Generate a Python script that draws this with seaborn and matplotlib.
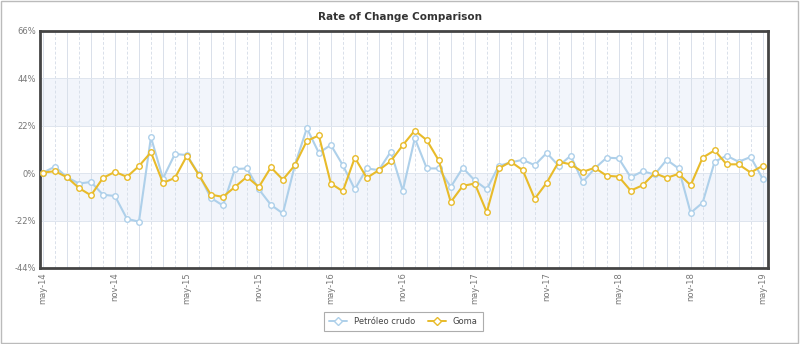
import numpy as np
import pandas as pd
import matplotlib
matplotlib.use("Agg")
import matplotlib.pyplot as plt
import seaborn as sns
from matplotlib.patches import Rectangle
from matplotlib.lines import Line2D

months_es = ["ene", "feb", "mar", "abr", "may", "jun", "jul", "ago", "sep", "oct", "nov", "dic"]
dates = pd.date_range("2014-05-01", "2019-05-01", freq="MS")
month_labels = [f"{months_es[d.month - 1]}-{str(d.year)[2:]}" for d in dates]

petroleo = [0.3, 3.0, -1.9, -4.8, -4.1, -10.0, -10.6, -21.2, -22.5, 16.7,
            -2.5, 8.9, 8.4, -0.6, -11.5, -15.0, 1.9, 2.2, -7.5, -14.7,
            -18.7, 3.7, 20.9, 9.4, 13.1, 3.7, -7.5, 2.2, 1.4, 10.0,
            -8.1, 16.2, 2.2, 2.2, -6.4, 2.5, -3.4, -7.5, 3.4, 5.0,
            6.2, 3.7, 9.4, 3.4, 8.1, -4.1, 2.2, 7.2, 6.9, -1.9,
            0.9, -0.6, 6.2, 2.2, -18.4, -13.7, 5.3, 8.1, 5.3, 7.5, -2.5]
goma = [0.3, 0.9, -1.9, -6.9, -10.3, -2.2, 0.6, -1.7, 3.3, 9.7,
        -4.5, -2.2, 8.1, -0.9, -10.0, -11.0, -6.4, -1.7, -6.4, 2.7,
        -3.0, 3.7, 15.0, 17.5, -4.8, -8.4, 7.2, -2.2, 1.4, 5.6,
        13.0, 19.8, 15.3, 5.9, -13.4, -5.9, -4.8, -18.1, 2.2, 5.3,
        1.4, -11.9, -4.4, 5.3, 4.1, 0.6, 2.5, -1.2, -1.6, -8.1,
        -5.6, 0.0, -2.2, -0.3, -5.6, 7.2, 10.6, 4.1, 4.1, 0.3, 3.4]

series_names = ["Petróleo crudo", "Goma"]
colors = ["#aed0ea", "#e8bb2a"]
y_ticks = [-44, -22, 0, 22, 44, 66]

df = pd.DataFrame({
    "idx": list(range(len(dates))) * 2,
    "value": petroleo + goma,
    "serie": [series_names[0]] * len(dates) + [series_names[1]] * len(dates),
})

sns.set_style("white")
plt.rcParams["font.family"] = ["DejaVu Sans"]

fig = plt.figure(figsize=(8.0, 3.44), dpi=100)
ax = fig.add_axes([0.05, 0.221, 0.91, 0.689])

# bands
ax.axhspan(22, 44, color="#f2f5fb", zorder=0, lw=0)
ax.axhspan(-22, 0, color="#f2f5fb", zorder=0, lw=0)

# grid
for i in range(len(dates)):
    ax.axvline(i, color="#d9e0ea", lw=0.7, ls=(0, (3, 2)) if i % 2 else "-", zorder=1)
for t in y_ticks:
    ax.axhline(t, color="#dfe5ee", lw=0.7, zorder=1)

sns.lineplot(data=df, x="idx", y="value", hue="serie", palette=dict(zip(series_names, colors)),
             hue_order=series_names, ax=ax, lw=1.5, marker="o", markersize=4.0,
             markerfacecolor="white", markeredgewidth=1.0, legend=False, zorder=3)
for line, c in zip(ax.get_lines()[-2:], colors):
    line.set_markeredgecolor(c)
ax.get_lines()[-1].set_zorder(4)

ax.set_xlim(-0.25, 60.45)
ax.set_ylim(-44, 66)
ax.set_yticks(y_ticks)
ax.set_yticklabels([f"{t}%" for t in y_ticks], fontsize=6, color="#777777")
xt = list(range(0, len(dates), 6))
ax.set_xticks(xt)
ax.set_xticklabels([month_labels[i] for i in xt], rotation=90, fontsize=6, color="#777777", va="top")
ax.tick_params(axis="both", length=0, pad=3)
ax.set_xlabel("")
ax.set_ylabel("")
for s in ax.spines.values():
    s.set_color("#444444")
    s.set_linewidth(2.0)

fig.text(0.5, 0.952, "Rate of Change Comparison", ha="center", va="center",
         fontsize=7.5, fontweight="bold", color="#333333")

handles = [Line2D([0], [0], color=c, lw=1.4, marker="D", markersize=4,
                  markerfacecolor="white", markeredgecolor=c) for c in colors]
leg = fig.legend(handles, series_names, loc="center", bbox_to_anchor=(0.504, 0.066),
                 ncol=2, fontsize=6, frameon=True, fancybox=False, handlelength=2.2,
                 columnspacing=1.5, borderpad=0.6)
leg.get_frame().set_edgecolor("#999999")
leg.get_frame().set_linewidth(0.8)
for t in leg.get_texts():
    t.set_color("#444444")

fig.patches.append(Rectangle((0.001, 0.002), 0.997, 0.995, transform=fig.transFigure,
                             fill=False, edgecolor="#bbbbbb", lw=1.0))

fig.savefig("out.png", dpi=100, facecolor="white")
